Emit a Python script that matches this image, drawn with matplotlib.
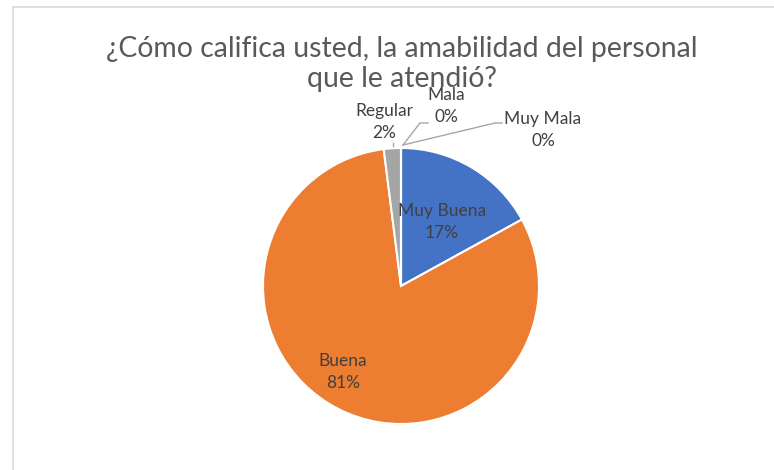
import numpy as np
import matplotlib
matplotlib.use('Agg')
import matplotlib.pyplot as plt
from matplotlib.lines import Line2D

# Data
categories = ['Muy Buena', 'Buena', 'Regular', 'Mala', 'Muy Mala']
values = [17, 81, 2, 0, 0]
colors = ['#4472C4', '#ED7D31', '#A5A5A5', '#FFC000', '#5B9BD5']
title = '¿Cómo califica usted, la amabilidad del personal\nque le atendió?'

plt.rcParams['font.family'] = ['Lato', 'DejaVu Sans']

W, H = 774, 470
fig = plt.figure(figsize=(W / 100, H / 100), dpi=100)
fig.patch.set_facecolor('white')

# chart area border (top and left visible)
fig.add_artist(Line2D([13 / W, 13 / W], [0, 1 - 6.5 / H], color='#D9D9D9', lw=1.2))
fig.add_artist(Line2D([13 / W, 1], [1 - 6.5 / H, 1 - 6.5 / H], color='#D9D9D9', lw=1.2))

cx, cy, r = 401, 286, 138
ax = fig.add_axes([(cx - r) / W, (H - cy - r) / H, 2 * r / W, 2 * r / H])
wedges, _ = ax.pie(values, colors=colors, startangle=90, counterclock=False,
                   wedgeprops=dict(edgecolor='white', linewidth=1.5), radius=1)
ax.set_xlim(-1, 1)
ax.set_ylim(-1, 1)
ax.set_aspect('equal')
ax.axis('off')

fig.text(cx / W + 1 / W, 1 - 64 / H, title, ha='center', va='center', fontsize=20.4,
         color='#595959', linespacing=1.15)

# data labels
pct = [f'{v:.0f}%' for v in values]
label_pos = [(0.297, 0.464), (-0.42, -0.623), (-0.123, 1.188), (0.326, 1.304), (1.029, 1.130)]
for name, p, (x, y) in zip(categories, pct, label_pos):
    ax.text(x, y, f'{name}\n{p}', ha='center', va='center', fontsize=12.5,
            color='#404040', linespacing=1.45, clip_on=False)

def px(x, y):
    return (x - cx) / r, (cy - y) / r

# leader lines
leaders = [
    [(393, 143), (393, 146)],
    [(403, 145), (420, 123), (428, 123)],
    [(403, 145), (495, 123), (502, 123)],
]
for pts in leaders:
    xs, ys = zip(*[px(a, b) for a, b in pts])
    ax.plot(xs, ys, color='#A6A6A6', lw=1, clip_on=False)

fig.savefig('out.png', dpi=100)
